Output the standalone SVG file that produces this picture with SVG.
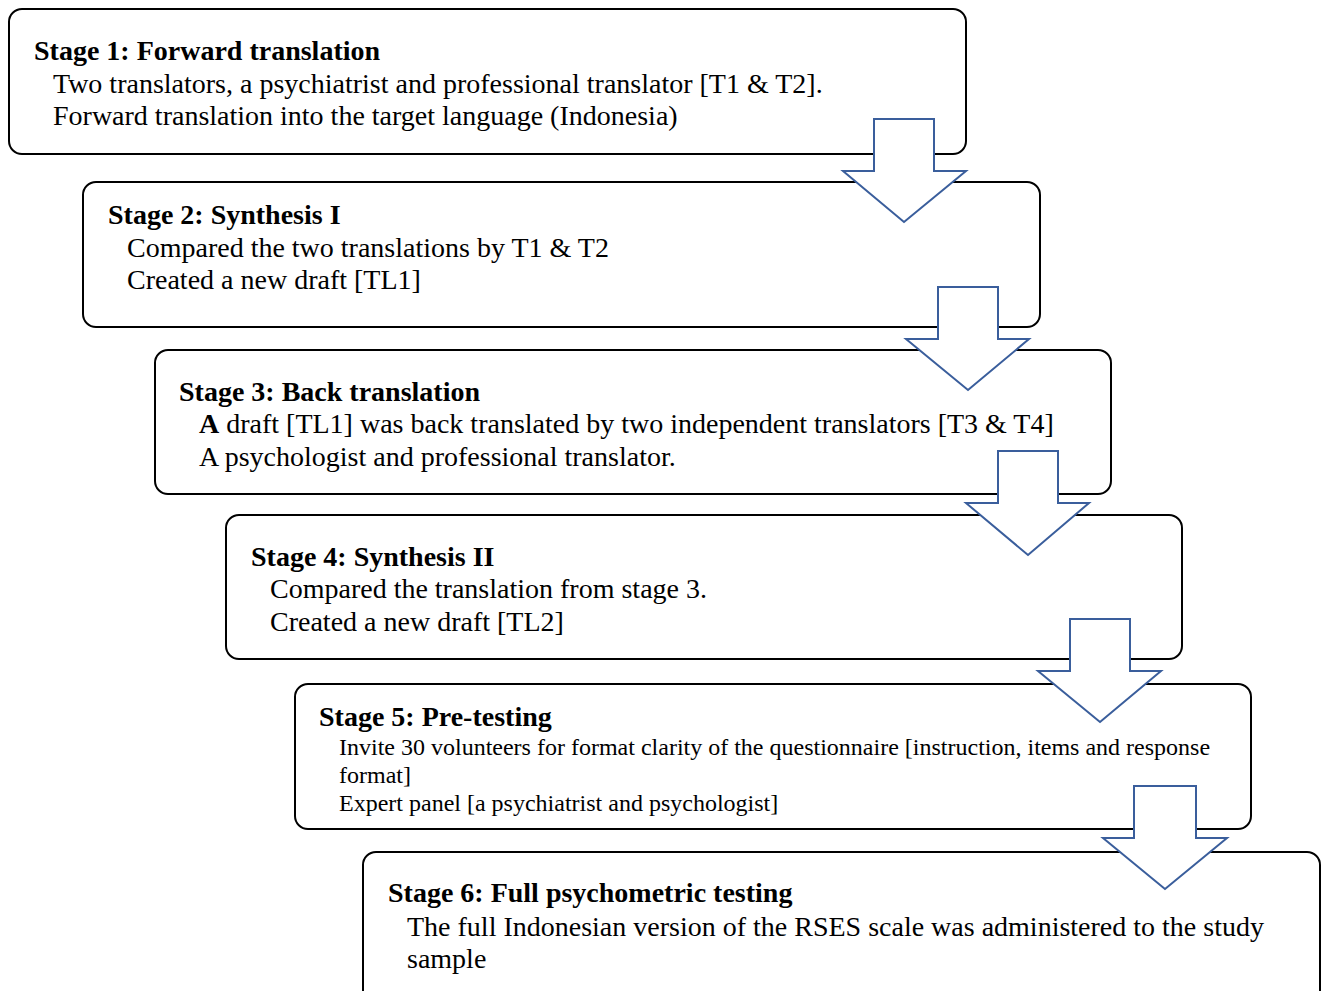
<svg xmlns="http://www.w3.org/2000/svg" width="1322" height="991" viewBox="0 0 1322 991">
<style>
.box{fill:#fff;stroke:#000;stroke-width:2}
.arr{fill:#fff;stroke:#3A5E9C;stroke-width:2;stroke-linejoin:miter}
text{font-family:"Liberation Serif","Times New Roman",serif;fill:#000}
.t{font-size:28px;font-weight:bold}
.b{font-size:28px}
.s{font-size:24px}
</style>
<rect width="1322" height="991" fill="#fff"/>
<g id="stage1">
<rect class="box" x="9" y="9" width="957" height="145" rx="13"/>
<text class="t" x="34" y="60">Stage 1: Forward translation</text>
<text class="b" x="53" y="93">Two translators, a psychiatrist and professional translator [T1 &amp; T2].</text>
<text class="b" x="53" y="125">Forward translation into the target language (Indonesia)</text>
</g>
<g id="stage2">
<rect class="box" x="83" y="182" width="957" height="145" rx="13"/>
<text class="t" x="108" y="224">Stage 2: Synthesis I</text>
<text class="b" x="127" y="257">Compared the two translations by T1 &amp; T2</text>
<text class="b" x="127" y="289">Created a new draft [TL1]</text>
</g>
<g id="stage3">
<rect class="box" x="155" y="350" width="956" height="144" rx="13"/>
<text class="t" x="179" y="401">Stage 3: Back translation</text>
<text class="b" x="199" y="433"><tspan font-weight="bold">A</tspan> draft [TL1] was back translated by two independent translators [T3 &amp; T4]</text>
<text class="b" x="199" y="466">A psychologist and professional translator.</text>
</g>
<g id="stage4">
<rect class="box" x="226" y="515" width="956" height="144" rx="13"/>
<text class="t" x="251" y="566">Stage 4: Synthesis II</text>
<text class="b" x="270" y="598">Compared the translation from stage 3.</text>
<text class="b" x="270" y="631">Created a new draft [TL2]</text>
</g>
<g id="stage5">
<rect class="box" x="295" y="684" width="956" height="145" rx="13"/>
<text class="t" x="319" y="726">Stage 5: Pre-testing</text>
<text class="s" x="339" y="755">Invite 30 volunteers for format clarity of the questionnaire [instruction, items and response</text>
<text class="s" x="339" y="783">format]</text>
<text class="s" x="339" y="811">Expert panel [a psychiatrist and psychologist]</text>
</g>
<g id="stage6">
<rect class="box" x="363" y="852" width="957" height="160" rx="13"/>
<text class="t" x="388" y="902">Stage 6: Full psychometric testing</text>
<text class="b" x="407" y="936">The full Indonesian version of the RSES scale was administered to the study</text>
<text class="b" x="407" y="968">sample</text>
</g>
<g id="connectors">
<polygon class="arr" points="874,119 934,119 934,171 966,171 904,222 843,171 874,171"/>
<polygon class="arr" points="938,287 998,287 998,339 1029,339 968,390 906,339 938,339"/>
<polygon class="arr" points="998,451 1058,451 1058,503 1089,503 1028,555 966,503 998,503"/>
<polygon class="arr" points="1070,619 1130,619 1130,671 1161,671 1100,722 1038,671 1070,671"/>
<polygon class="arr" points="1134,786 1196,786 1196,838 1227,838 1165,889 1103,838 1134,838"/>
</g>
</svg>
